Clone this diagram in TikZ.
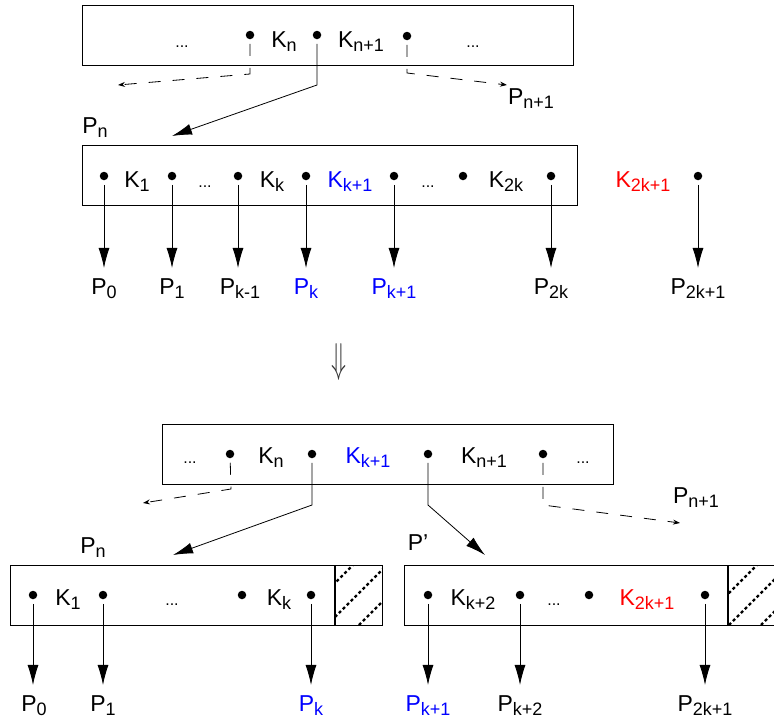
\documentclass[tikz,border=0pt]{standalone}
\usepackage{fontspec}
\setmainfont{Liberation Sans}
\usetikzlibrary{arrows.meta}
\newcommand{\sbs}[1]{\raisebox{-4.5pt}{\fontsize{18}{18}\selectfont #1}}
\definecolor{kblue}{RGB}{0,0,255}
\definecolor{kred}{RGB}{255,0,0}
\begin{document}
\begin{tikzpicture}[x=1pt,y=-1pt,
 box/.style={draw, line width=1.1pt, inner sep=0pt, anchor=north west, minimum height=60pt},
 dotn/.style={circle, fill, inner sep=0pt, minimum size=8.5pt, outer sep=4.5pt},
 lbl/.style={anchor=base, inner sep=0pt, font=\fontsize{23}{23}\selectfont},
 plbl/.style={lbl, inner ysep=10pt},
 ell/.style={anchor=base, inner sep=0pt, font=\fontsize{16}{16}\selectfont},
 conn/.style={line width=0.8pt, -{Latex[length=20pt,width=11pt]}},
 dconn/.style={line width=0.8pt, dash pattern=on 12pt off 12pt, -{Stealth[length=7pt,width=5pt]}},
 hatchline/.style={line width=2.4pt, dash pattern=on 3pt off 2.6pt},
]
\useasboundingbox (0,0) rectangle (774,723);

% ---------- top node ----------
\node[box, minimum width=491pt] (B1) at (82,5) {};
\node[ell] (e1) at (182,47) {...};
\node[dotn] (t1) at (250,35) {};
\node[lbl] (kn) at (284,47) {K\sbs{n}};
\node[dotn] (t2) at (317,35) {};
\node[lbl] (kn1) at (361,47) {K\sbs{n+1}};
\node[dotn] (t3) at (407,36) {};
\node[ell] (e2) at (473,47) {...};

\coordinate (t1c) at (250,74); \coordinate (t1e) at (118,85);
\draw[dconn] (t1) -- (t1c) -- (t1e);
\coordinate (t3c) at (407,73); \coordinate (t3e) at (507,85);
\draw[dconn] (t3) -- (t3c) -- (t3e);
\coordinate (t2c) at (317,85); \coordinate (t2e) at (172,136);
\draw[conn] (t2) -- (t2c) -- (t2e);
\node[lbl] (pn1) at (531,104) {P\sbs{n+1}};
\node[lbl] (pn) at (95,133) {P\sbs{n}};

% ---------- overfull node ----------
\node[box, minimum width=495pt] (B2) at (82,145) {};
\node[dotn] (m0) at (104,176) {};
\node[lbl] (k1) at (137,187) {K\sbs{1}};
\node[dotn] (m1) at (172,176) {};
\node[ell] (e3) at (205,187) {...};
\node[dotn] (m2) at (238,176) {};
\node[lbl] (kk) at (272,187) {K\sbs{k}};
\node[dotn] (m3) at (306,176) {};
\node[lbl, text=kblue] (kk1) at (350,187) {K\sbs{k+1}};
\node[dotn] (m4) at (394,176) {};
\node[ell] (e4) at (428,187) {...};
\node[dotn] (m5) at (463,176) {};
\node[lbl] (k2k) at (506,187) {K\sbs{2k}};
\node[dotn] (m6) at (551,176) {};
\node[lbl, text=kred] (k2k1) at (643,187) {K\sbs{2k+1}};
\node[dotn] (m7) at (698,176) {};

\node[plbl] (p0) at (104,294) {P\sbs{0}};
\node[plbl] (p1) at (172,294) {P\sbs{1}};
\node[plbl] (pkm1) at (240,294) {P\sbs{k-1}};
\node[plbl, text=kblue] (pk) at (306,294) {P\sbs{k}};
\node[plbl, text=kblue] (pk1) at (394,294) {P\sbs{k+1}};
\node[plbl] (p2k) at (551,294) {P\sbs{2k}};
\node[plbl] (p2k1) at (698,294) {P\sbs{2k+1}};
\foreach \d/\p in {m0/p0, m1/p1, m2/pkm1, m3/pk, m4/pk1, m6/p2k, m7/p2k1}
  \draw[conn] (\d) -- (\d |- \p.north);

% ---------- split arrow ----------
\node[inner sep=0pt, text=black!80] (split) at (339,362) {\resizebox{15pt}{29pt}{$\Downarrow$}};

% ---------- parent after split ----------
\node[box, minimum width=451pt] (B3) at (162,424) {};
\node[ell] (e5) at (190,463) {...};
\node[dotn] (b1) at (230,454) {};
\node[lbl] (kn2) at (271,463) {K\sbs{n}};
\node[dotn] (b2) at (312,454) {};
\node[lbl, text=kblue] (kk1b) at (368,463) {K\sbs{k+1}};
\node[dotn] (b3) at (428,454) {};
\node[lbl] (kn1b) at (484,463) {K\sbs{n+1}};
\node[dotn] (b4) at (543,454) {};
\node[ell] (e6) at (583,463) {...};

\coordinate (b1c) at (231,489); \coordinate (b1e) at (143,503);
\draw[dconn] (b1) -- (b1c) -- (b1e);
\coordinate (b2c) at (312,505); \coordinate (b2e) at (173,555);
\draw[conn] (b2) -- (b2c) -- (b2e);
\coordinate (b3c) at (428,505); \coordinate (b3e) at (485,555);
\draw[conn] (b3) -- (b3c) -- (b3e);
\coordinate (b4c) at (543,505); \coordinate (b4e) at (680,523);
\draw[dconn] (b4) -- (b4c) -- (b4e);
\node[lbl] (pnb) at (93,553) {P\sbs{n}};
\node[lbl] (pprime) at (418,550) {P’};
\node[lbl] (pn1b) at (696,503) {P\sbs{n+1}};

% ---------- left child ----------
\node[box, minimum width=372pt] (B4) at (10,565) {};
\draw[line width=1.1pt] (335,565) -- (335,625);
\begin{scope}
  \clip (335,565) rectangle (382,625);
  \foreach \c in {918,952,984}
    \draw[hatchline] (\c-625,625) -- (\c-565,565);
\end{scope}
\node[dotn] (l0) at (33,595) {};
\node[lbl] (lk1) at (68,605) {K\sbs{1}};
\node[dotn] (l1) at (103,595) {};
\node[ell] (e7) at (172,605) {...};
\node[dotn] (l2) at (242,595) {};
\node[lbl] (lkk) at (279,605) {K\sbs{k}};
\node[dotn] (l3) at (311,595) {};
\node[plbl] (lp0) at (34,711) {P\sbs{0}};
\node[plbl] (lp1) at (103,711) {P\sbs{1}};
\node[plbl, text=kblue] (lpk) at (311,711) {P\sbs{k}};
\foreach \d/\p in {l0/lp0, l1/lp1, l3/lpk}
  \draw[conn] (\d) -- (\d |- \p.north);

% ---------- right child ----------
\node[box, minimum width=371pt] (B5) at (404,565) {};
\draw[line width=1.1pt] (728,565) -- (728,625);
\begin{scope}
  \clip (728,565) rectangle (775,625);
  \foreach \c in {1322,1354,1386}
    \draw[hatchline] (\c-625,625) -- (\c-565,565);
\end{scope}
\node[dotn] (r0) at (428,595) {};
\node[lbl] (rk2) at (473,605) {K\sbs{k+2}};
\node[dotn] (r1) at (520,595) {};
\node[ell] (e8) at (554,605) {...};
\node[dotn] (r2) at (589,595) {};
\node[lbl, text=kred] (rk2k1) at (647,605) {K\sbs{2k+1}};
\node[dotn] (r3) at (705,595) {};
\node[plbl, text=kblue] (rpk1) at (428,711) {P\sbs{k+1}};
\node[plbl] (rpk2) at (520,711) {P\sbs{k+2}};
\node[plbl] (rp2k1) at (705,711) {P\sbs{2k+1}};
\foreach \d/\p in {r0/rpk1, r1/rpk2, r3/rp2k1}
  \draw[conn] (\d) -- (\d |- \p.north);
\end{tikzpicture}
\end{document}
